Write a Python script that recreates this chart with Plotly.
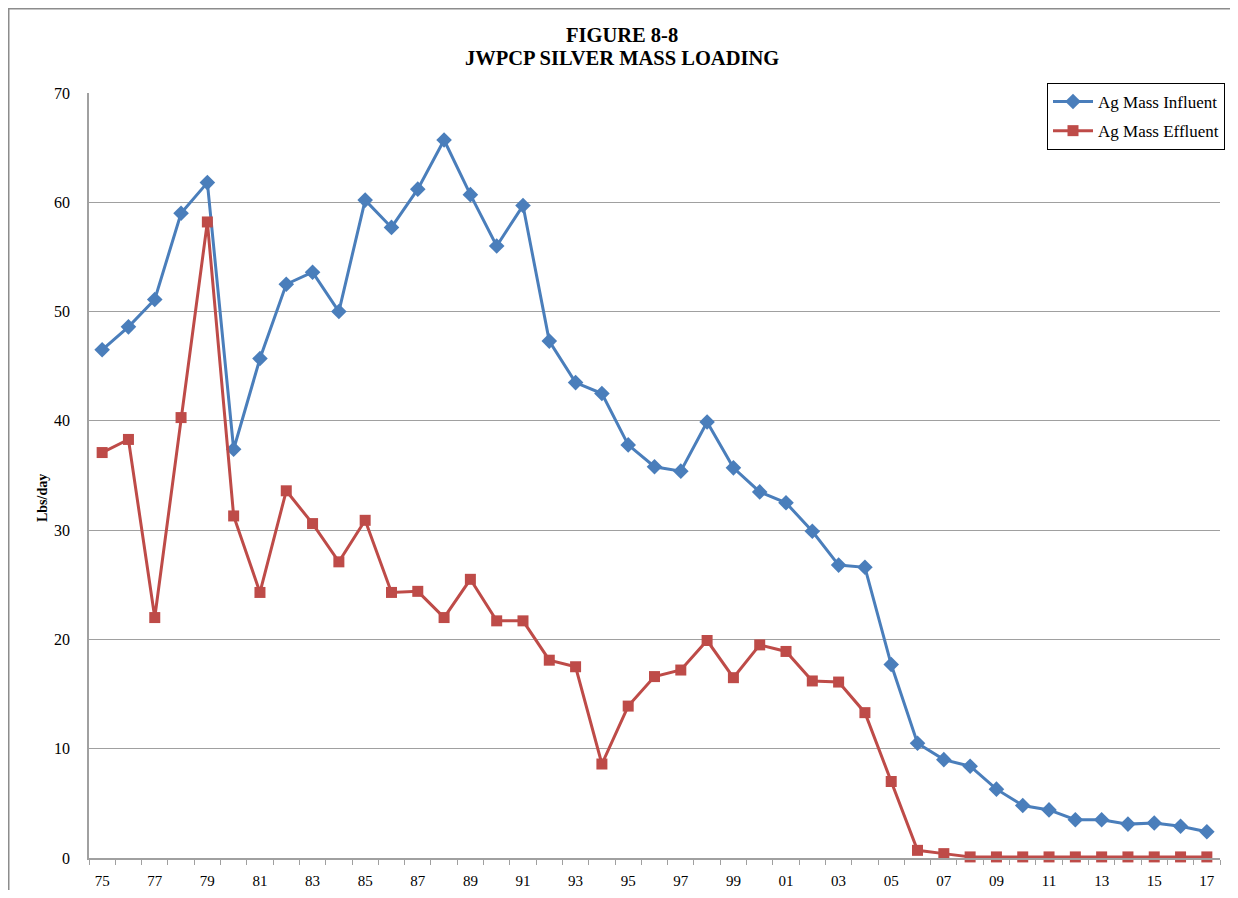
import plotly.graph_objects as go

years = ["75","76","77","78","79","80","81","82","83","84","85","86","87","88","89",
         "90","91","92","93","94","95","96","97","98","99","00","01","02","03","04",
         "05","06","07","08","09","10","11","12","13","14","15","16","17"]

influent = [46.5, 48.6, 51.1, 59.0, 61.8, 37.4, 45.7, 52.5, 53.6, 50.0,
            60.2, 57.7, 61.2, 65.7, 60.7, 56.0, 59.7, 47.3, 43.5, 42.5,
            37.8, 35.8, 35.4, 39.9, 35.7, 33.5, 32.5, 29.9, 26.8, 26.6,
            17.7, 10.5, 9.0, 8.4, 6.3, 4.8, 4.4, 3.5, 3.5, 3.1,
            3.2, 2.9, 2.4]

effluent = [37.1, 38.3, 22.0, 40.3, 58.2, 31.3, 24.3, 33.6, 30.6, 27.1,
            30.9, 24.3, 24.4, 22.0, 25.5, 21.7, 21.7, 18.1, 17.5, 8.6,
            13.9, 16.6, 17.2, 19.9, 16.5, 19.5, 18.9, 16.2, 16.1, 13.3,
            7.0, 0.7, 0.4, 0.1, 0.1, 0.1, 0.1, 0.1, 0.1, 0.1,
            0.1, 0.1, 0.1]

idx = list(range(len(years)))
serif = "Liberation Serif, Times New Roman, serif"

# figure is rendered at an 8px page offset; work in figure pixels
W, H = 1222, 882
L, R, T, B = 81, 10, 85, 32
PW, PH = W - L - R, H - T - B


def px(xf):
    return (xf - L) / PW


def py(yf):
    return (H - B - yf) / PH


fig = go.Figure()
fig.add_trace(go.Scatter(
    x=idx, y=influent, name="Ag Mass Influent", mode="lines+markers",
    legendgroup="inf",
    line=dict(color="#4a7ebb", width=3),
    marker=dict(symbol="diamond", size=12, color="#4a7ebb"),
    cliponaxis=False,
))
fig.add_trace(go.Scatter(
    x=idx, y=effluent, name="Ag Mass Effluent", mode="lines+markers",
    legendgroup="eff",
    line=dict(color="#be4b48", width=3),
    marker=dict(symbol="square", size=11, color="#be4b48"),
    cliponaxis=False,
))

fig.update_layout(
    width=W, height=H,
    paper_bgcolor="white", plot_bgcolor="white",
    margin=dict(l=L, r=R, t=T, b=B, autoexpand=False),
    font=dict(family=serif, color="black"),
    showlegend=True,
    legend=dict(
        x=px(1039), y=py(75), xanchor="left", yanchor="top",
        bgcolor="white", bordercolor="black", borderwidth=1,
        font=dict(family=serif, size=17, color="black"),
        itemwidth=40, tracegroupgap=4,
    ),
    xaxis=dict(
        range=[-0.5, len(years) - 0.5],
        tickmode="array",
        tickvals=idx[::2], ticktext=years[::2],
        ticks="outside", ticklen=8, tickcolor="rgba(0,0,0,0)",
        showgrid=False, zeroline=False,
        showline=True, linecolor="#a0a0a0", linewidth=1.5,
        tickfont=dict(family=serif, size=15, color="black"),
        minor=dict(tickmode="linear", tick0=-0.5, dtick=1,
                   ticks="outside", ticklen=5, tickcolor="#a0a0a0",
                   tickwidth=1, showgrid=False),
    ),
    yaxis=dict(
        range=[0, 70], dtick=10, tick0=0,
        showgrid=True, gridcolor="#a0a0a0", gridwidth=1.2,
        zeroline=False, showline=True, linecolor="#a0a0a0", linewidth=1.5,
        ticks="outside", ticklen=14, tickcolor="rgba(0,0,0,0)",
        tickfont=dict(family=serif, size=16, color="black"),
    ),
    annotations=[
        dict(text="<b>FIGURE 8-8</b>", xref="paper", yref="paper",
             x=px(614), y=py(27), xanchor="center", yanchor="middle",
             showarrow=False, font=dict(family=serif, size=20.5, color="black")),
        dict(text="<b>JWPCP SILVER MASS LOADING</b>", xref="paper", yref="paper",
             x=px(614), y=py(50), xanchor="center", yanchor="middle",
             showarrow=False, font=dict(family=serif, size=20.5, color="black")),
        dict(text="<b>Lbs/day</b>", xref="paper", yref="paper",
             x=px(34), y=py(490), xanchor="center", yanchor="middle",
             textangle=-90, showarrow=False,
             font=dict(family=serif, size=14, color="black")),
    ],
    shapes=[dict(
        type="rect", xref="paper", yref="paper",
        x0=px(0.75), x1=px(1260),
        y0=py(920), y1=py(0.75),
        line=dict(color="#8c8c8c", width=1.5), fillcolor="rgba(0,0,0,0)",
        layer="below",
    )],
)

fig.write_html("out.html")
